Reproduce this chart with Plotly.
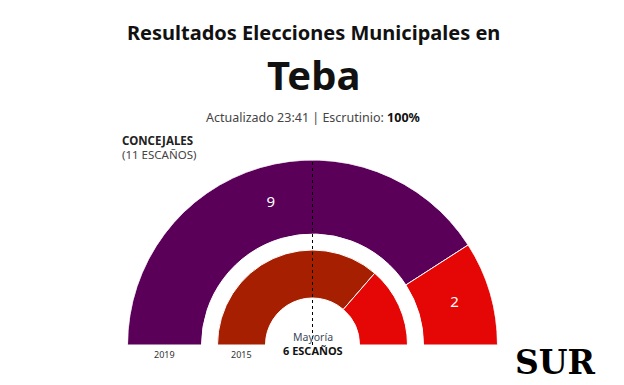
import plotly.graph_objects as go

# ---- data ----
total_seats = 11
majority = 6
years = ["2019", "2015"]
parties_2019 = ["Partido A", "Partido B"]
seats_2019 = [9, 2]
colors_2019 = ["#5a0058", "#e50606"]
parties_2015 = ["Partido C", "Partido B"]
seats_2015 = [8, 3]
colors_2015 = ["#a51f00", "#e50606"]

# ring geometry (styling)
R_OUT = 185
RING_2019 = (111, 185)
RING_2015 = (47, 95)


def arcs(seats):
    thetas, widths = [], []
    start = 180.0
    for s in seats:
        w = s / total_seats * 180.0
        thetas.append(start - w / 2)
        widths.append(w)
        start -= w
    return thetas, widths


fig = go.Figure()
for seats, cols, ring, names in [
    (seats_2019, colors_2019, RING_2019, parties_2019),
    (seats_2015, colors_2015, RING_2015, parties_2015),
]:
    th, wd = arcs(seats)
    fig.add_trace(go.Barpolar(
        theta=th, width=wd, r=[ring[1] - ring[0]] * len(seats),
        base=[ring[0]] * len(seats), marker=dict(color=cols, line=dict(color="white", width=1)),
        hovertext=[f"{n}: {s}" for n, s in zip(names, seats)], hoverinfo="text",
        showlegend=False,
    ))

# labels on outer ring
th19, _ = arcs(seats_2019)
fig.add_trace(go.Scatterpolar(
    theta=th19, r=[(RING_2019[0] + RING_2019[1]) / 2] * len(seats_2019),
    mode="text", text=[str(s) for s in seats_2019],
    textfont=dict(family="Noto Sans", size=15, color="white"),
    hoverinfo="skip", showlegend=False,
))

# majority line
fig.add_trace(go.Scatterpolar(
    theta=[90, 90], r=[0, R_OUT], mode="lines",
    line=dict(color="black", width=1, dash="dot"),
    hoverinfo="skip", showlegend=False,
))

W, H = 624, 385
cx, cy = 312.5, 345
fig.update_layout(
    width=W, height=H, margin=dict(l=0, r=0, t=0, b=0),
    paper_bgcolor="white", plot_bgcolor="white",
    polar=dict(
        domain=dict(x=[(cx - R_OUT) / W, (cx + R_OUT) / W],
                    y=[1 - cy / H, 1 - (cy - R_OUT) / H]),
        sector=[0, 180], hole=0, bgcolor="rgba(0,0,0,0)",
        radialaxis=dict(range=[0, R_OUT], visible=False, showgrid=False),
        angularaxis=dict(visible=False, showgrid=False, direction="counterclockwise", rotation=0),
    ),
)


def ann(text, x, y, size, color="#111", bold=False, xanchor="center", family="Noto Sans"):
    if bold:
        text = f"<b>{text}</b>"
    fig.add_annotation(text=text, x=x / W, y=1 - y / H, xref="paper", yref="paper",
                       showarrow=False, xanchor=xanchor, yanchor="middle",
                       font=dict(family=family, size=size, color=color))


ann("Resultados Elecciones Municipales en", 313, 32, 20, bold=True)
ann("Teba", 313, 75, 40, bold=True)
ann("Actualizado 23:41 | Escrutinio: <b><span style='color:#111'>100%</span></b>", 313, 117, 12.5, color="#444")
ann("CONCEJALES", 120, 140, 11.5, bold=True, xanchor="left", color="#222")
ann("(11 ESCAÑOS)", 120, 154, 11.5, xanchor="left", color="#444")
ann(years[0], cx - (RING_2019[0] + RING_2019[1]) / 2, 354, 9, color="#333")
ann(years[1], cx - (RING_2015[0] + RING_2015[1]) / 2, 354, 9, color="#333")
ann("Mayoría", 313, 337, 10.5, color="#3c4a5c")
ann(f"{majority} ESCAÑOS", 313, 350, 11, bold=True, color="#111")
ann("SUR", 555, 362, 33, bold=True, color="black", family="DejaVu Serif")

fig.write_html("out.html", config={"displayModeBar": False},
               post_script="document.body.style.margin='0px';")
